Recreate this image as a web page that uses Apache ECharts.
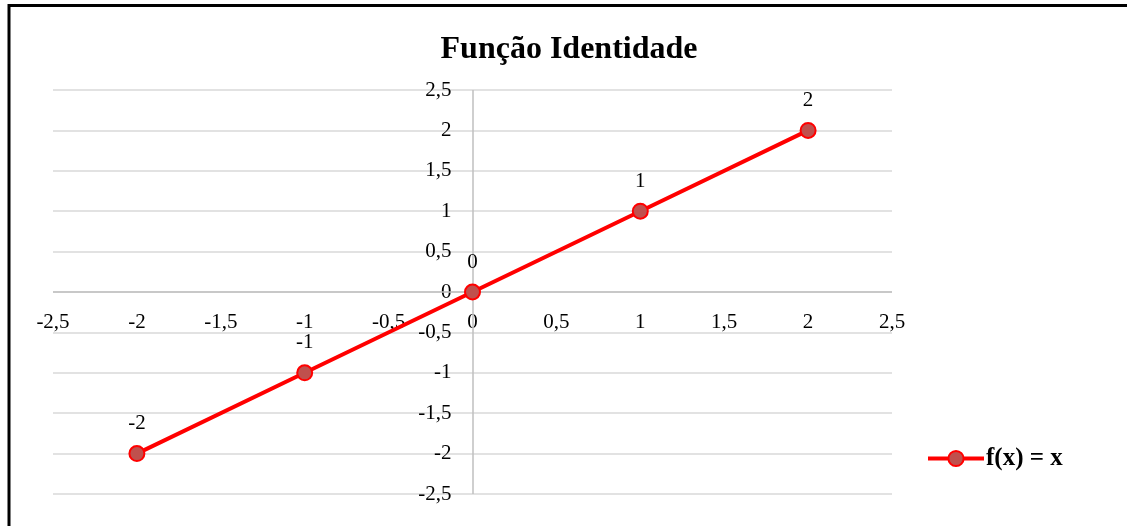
<!DOCTYPE html>
<html>
<head>
<meta charset="utf-8">
<script src="https://cdn.jsdelivr.net/npm/echarts@6/dist/echarts.min.js"></script>
<style>
  html, body { margin: 0; padding: 0; background: #fff; }
  #chart { width: 1127px; height: 526px; }
</style>
</head>
<body>
<div id="chart"></div>
<script>
// Identity function f(x) = x sampled at integer points
const xValues = [-2, -1, 0, 1, 2];
const yValues = [-2, -1, 0, 1, 2];
const seriesName = 'f(x) = x';
const chartTitle = 'Função Identidade';
const axisMin = -2.5;
const axisMax = 2.5;
const axisStep = 0.5;

const FONT = '"Liberation Serif", "Times New Roman", serif';
const points = xValues.map((x, i) => [x, yValues[i]]);
const commaDecimal = v => String(v).replace('.', ',');

const chart = echarts.init(document.getElementById('chart'));
chart.setOption({
  animation: false,
  backgroundColor: '#fff',
  title: {
    text: chartTitle,
    left: 564,
    textAlign: 'center',
    top: 29,
    textStyle: { fontFamily: FONT, fontSize: 32, fontWeight: 'bold', color: '#000' }
  },
  legend: {
    left: 921,
    top: 441,
    itemWidth: 56,
    itemHeight: 19,
    itemGap: 4,
    lineStyle: { width: 4 },
    textStyle: { fontFamily: FONT, fontSize: 25, fontWeight: 'bold', color: '#000', padding: [0, 0, 0, -3] },
    data: [seriesName]
  },
  grid: { left: 53, right: 235, top: 90, bottom: 32, containLabel: false, outerBoundsMode: 'none' },
  xAxis: {
    type: 'value',
    min: axisMin, max: axisMax, interval: axisStep,
    axisLine: { show: false, onZero: false },
    axisTick: { show: false },
    splitLine: { show: false },
    axisLabel: {
      margin: 20,
      fontFamily: FONT, fontSize: 21, color: '#000',
      formatter: commaDecimal,
      showMinLabel: true, showMaxLabel: true
    }
  },
  yAxis: {
    type: 'value',
    min: axisMin, max: axisMax, interval: axisStep,
    axisLine: { show: false, onZero: false },
    axisTick: { show: false },
    splitLine: { show: true, lineStyle: { color: '#d9d9d9', width: 1.5 } },
    axisLabel: {
      margin: 21,
      fontFamily: FONT, fontSize: 21, color: '#000',
      formatter: commaDecimal,
      showMinLabel: true, showMaxLabel: true
    }
  },
  series: [{
    name: seriesName,
    type: 'line',
    data: points,
    symbol: 'circle',
    symbolSize: 15,
    lineStyle: { color: '#ff0000', width: 4 },
    itemStyle: { color: '#c0504d', borderColor: '#ff0000', borderWidth: 2 },
    label: {
      show: true,
      position: 'top',
      distance: 11,
      fontFamily: FONT, fontSize: 21, color: '#000',
      formatter: p => commaDecimal(p.value[1])
    },
    // Coordinate axes through the origin
    markLine: {
      silent: true,
      symbol: 'none',
      label: { show: false },
      lineStyle: { color: '#bfbfbf', width: 1.5, type: 'solid' },
      z: 1,
      data: [{ xAxis: 0 }, { yAxis: 0 }]
    },
    emphasis: { disabled: true }
  }],
  graphic: [{
    type: 'rect',
    shape: { x: 9, y: 5.5, width: 1300, height: 700 },
    style: { fill: 'none', stroke: '#000', lineWidth: 3 },
    silent: true
  }]
});

// Shift the tick labels of both axes next to the lines crossing at the origin
const origin = chart.convertToPixel({ gridIndex: 0 }, [0, 0]);
const corner = chart.convertToPixel({ gridIndex: 0 }, [axisMin, axisMin]);
chart.setOption({
  xAxis: { offset: -(corner[1] - origin[1]) },
  yAxis: { offset: -(origin[0] - corner[0]) }
});
</script>
</body>
</html>
